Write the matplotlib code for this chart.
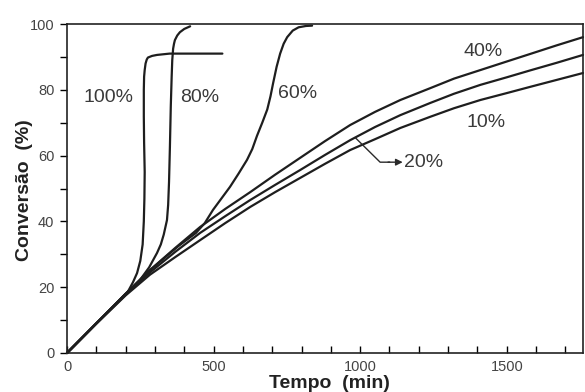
import matplotlib
matplotlib.use("Agg")
import matplotlib.pyplot as plt

plt.rcParams["font.family"] = ["Liberation Sans", "DejaVu Sans"]

# curves: time (min) vs conversion (%)
t_100 = [0, 100, 205, 225, 239, 250, 258, 262, 264, 265, 263, 262, 262, 263,
         265, 268, 272, 276, 290, 307, 350, 530]
c_100 = [0, 9, 18.2, 21.5, 24.3, 28, 33, 40, 47, 55, 64, 72, 80, 84,
         86, 88, 89.2, 89.8, 90.3, 90.6, 91, 91]

t_80 = [0, 100, 200, 225, 249, 280, 307, 320, 330, 341, 345, 348, 351, 354,
        357, 359, 362, 365, 368, 376, 385, 400, 420]
c_80 = [0, 9, 18, 20, 22.2, 26, 30.4, 33, 36, 40.4, 45, 52, 62.6, 75,
        84, 89, 92.5, 94, 95.1, 96.5, 97.5, 98.5, 99.3]

t_60 = [0, 100, 200, 283, 380, 440, 470, 498, 527, 556, 585, 614, 632, 648,
        666, 683, 694, 703, 715, 727, 739, 751, 770, 790, 815, 836]
c_60 = [0, 9, 18, 25.2, 32.5, 36.5, 39.5, 43.5, 47, 50.5, 54.5, 58.7, 62, 66,
        70, 74, 78, 82, 87, 91, 94, 96, 98, 99, 99.4, 99.5]

t_40 = [0, 100, 200, 283, 370, 454, 540, 625, 710, 795, 880, 966, 1051, 1137,
        1239, 1320, 1410, 1500, 1580, 1670, 1760]
c_40 = [0, 9, 18, 25.2, 32, 38.3, 43.8, 48.9, 54.2, 59.3, 64.4, 69.3, 73.3, 76.9,
        80.5, 83.4, 86, 88.6, 90.9, 93.5, 96]

t_20 = [0, 100, 200, 283, 370, 454, 540, 625, 710, 795, 880, 966, 1051, 1137,
        1239, 1320, 1410, 1500, 1580, 1670, 1760]
c_20 = [0, 9, 17.8, 24.5, 30.8, 36.5, 41.6, 46.5, 51.1, 55.6, 60.2, 64.7, 68.7, 72.3,
        76, 78.8, 81.5, 83.8, 85.9, 88.2, 90.6]

t_10 = [0, 100, 200, 283, 370, 454, 540, 625, 710, 795, 880, 966, 1051, 1137,
        1239, 1320, 1410, 1500, 1580, 1670, 1760]
c_10 = [0, 8.9, 17.5, 23.8, 29.2, 34.3, 39.5, 44.4, 48.9, 53.2, 57.5, 61.7, 65, 68.4,
        71.8, 74.4, 76.9, 79, 80.9, 83, 85.1]

curves = [(t_100, c_100), (t_80, c_80), (t_60, c_60),
          (t_40, c_40), (t_20, c_20), (t_10, c_10)]

labels = ["100%", "80%", "60%", "40%", "10%"]
label_x = [143, 451, 788, 1420, 1430]
label_y = [77.8, 77.8, 79, 91.5, 70]

fig = plt.figure(figsize=(5.85, 3.92), dpi=100)
ax = fig.add_axes([67 / 585, 1 - 353 / 392, 516 / 585, 329 / 392])

for t, c in curves:
    ax.plot(t, c, color="#1e1e1e", lw=1.6, solid_capstyle="round",
            solid_joinstyle="round", clip_on=False)

for s, x, y in zip(labels, label_x, label_y):
    ax.text(x, y, s, fontsize=14, color="#3a3a3a", ha="center", va="center")

# elbow arrow pointing out the 20% curve
ax.plot([985, 1068, 1100], [65.3, 58, 58], color="#2a2a2a", lw=1.0)
ax.annotate("", xy=(1145, 58), xytext=(1095, 58),
            arrowprops=dict(arrowstyle="-|>", color="#2a2a2a", lw=1.0,
                            mutation_scale=10, shrinkA=0, shrinkB=0))
ax.text(1150, 58, "20%", fontsize=14, color="#3a3a3a", ha="left", va="center")

ax.set_xlim(0, 1760)
ax.set_ylim(0, 100)
ax.set_xticks([0, 500, 1000, 1500])
ax.set_xticks(range(0, 1800, 100), minor=True)
ax.set_yticks([0, 20, 40, 60, 80, 100])
ax.set_yticks(range(0, 101, 10), minor=True)

ax.tick_params(axis="x", which="both", direction="in", length=5, width=1,
               pad=5, labelsize=10.5, labelcolor="#444444")
ax.tick_params(axis="y", which="both", direction="out", length=5, width=1,
               pad=4, labelsize=10.5, labelcolor="#444444")

for sp in ax.spines.values():
    sp.set_linewidth(1.2)
    sp.set_color("#222222")

ax.set_xlabel("Tempo  (min)", fontsize=14, fontweight="bold", color="#222222")
ax.set_ylabel("Conversão  (%)", fontsize=14, fontweight="bold", color="#222222")
ax.xaxis.set_label_coords(0.508, -0.068)
ax.yaxis.set_label_coords(-0.066, 0.495)

fig.savefig("out.png", dpi=100)
